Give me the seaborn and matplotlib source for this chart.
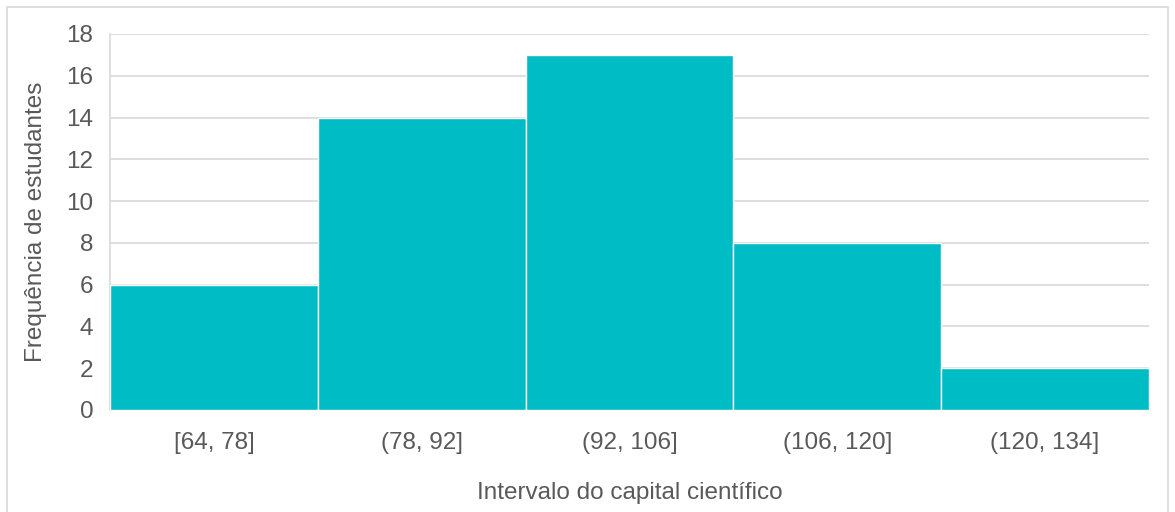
import matplotlib
matplotlib.use("Agg")
import matplotlib.pyplot as plt
import seaborn as sns
import pandas as pd
from matplotlib.patches import Rectangle

categories = ["[64, 78]", "(78, 92]", "(92, 106]", "(106, 120]", "(120, 134]"]
frequencies = [6, 14, 17, 8, 2]
y_ticks = [0, 2, 4, 6, 8, 10, 12, 14, 16, 18]

df = pd.DataFrame({"intervalo": categories, "freq": frequencies})

sns.set_theme(style="white")
plt.rcParams["font.family"] = ["Liberation Sans", "DejaVu Sans"]

TEXT = "#595959"
GRID = "#d9d9d9"
BAR = "#00BCC5"

fig = plt.figure(figsize=(11.75, 5.12), dpi=100)
ax = fig.add_axes([110 / 1175, 1 - 410 / 512, (1149 - 110) / 1175, (410 - 34) / 512])

# outer chart border
fig.patches.append(Rectangle((7 / 1175, -0.05), (1168 - 7) / 1175, 1 - 7 / 512 + 0.05,
                             transform=fig.transFigure, fill=False,
                             edgecolor="#d9d9d9", linewidth=1.2, zorder=0))

sns.barplot(data=df, x="intervalo", y="freq", color=BAR, width=1.0,
            edgecolor="white", linewidth=1.0, saturation=1, ax=ax, zorder=3)

ax.set_ylim(0, 18)
ax.set_xlim(-0.5, len(categories) - 0.5)
ax.set_yticks(y_ticks)
ax.yaxis.grid(True, color=GRID, linewidth=1.2, zorder=0)
ax.set_axisbelow(True)
for s in ["top", "right", "bottom"]:
    ax.spines[s].set_visible(False)
ax.spines["left"].set_color(GRID)
ax.spines["left"].set_linewidth(1.2)

ax.tick_params(axis="y", length=0, pad=12, labelsize=17.5, labelcolor=TEXT)
ax.tick_params(axis="x", length=0, pad=15.5, labelsize=17.5, labelcolor=TEXT)

ax.set_xlabel("Intervalo do capital científico", fontsize=17.5, color=TEXT, labelpad=20.5)
ax.set_ylabel("Frequência de estudantes", fontsize=17.5, color=TEXT, labelpad=13.5)

fig.savefig("out.png", dpi=100)
